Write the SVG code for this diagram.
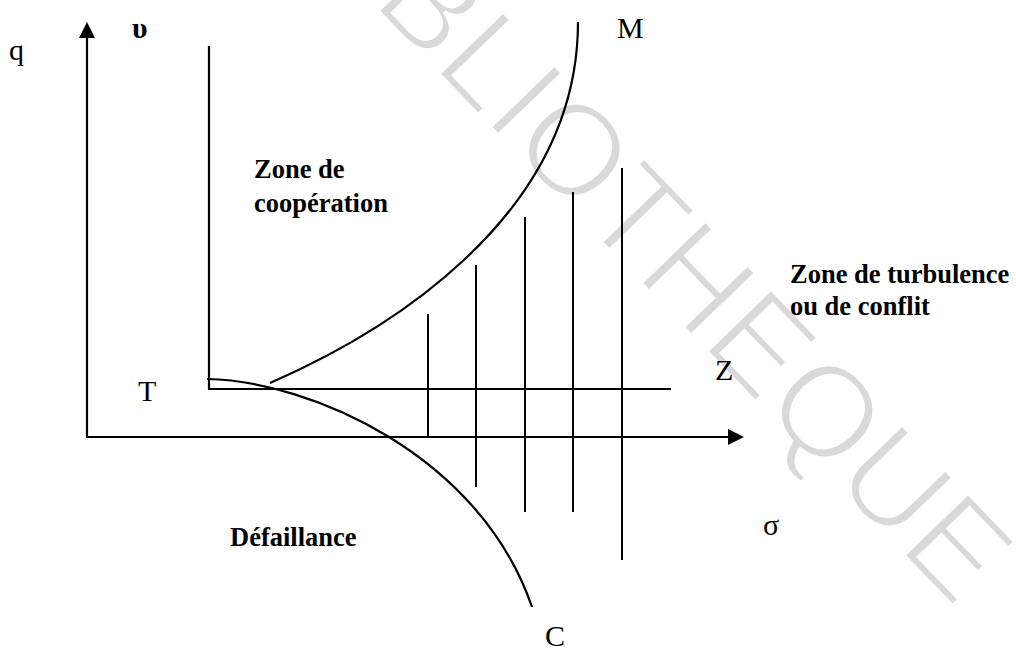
<svg xmlns="http://www.w3.org/2000/svg" width="1016" height="650" viewBox="0 0 1016 650">
  <style>
    .ln { stroke: #000; stroke-width: 2.2; fill: none; }
    .hl { stroke: #000; stroke-width: 2; fill: none; }
    .lbl { font-family: "Liberation Serif", "Times New Roman", serif; font-size: 30px; fill: #000; }
    .zone { font-family: "Liberation Serif", "Times New Roman", serif; font-size: 26.5px; font-weight: bold; fill: #000; }
    .wm { font-family: "Liberation Sans", Arial, sans-serif; font-size: 131px; fill: #d9d9d9; stroke: #fff; stroke-width: 4; }
  </style>
  <rect width="1016" height="650" fill="#fff"/>
  <g id="watermark">
    <text class="wm" transform="translate(284,-86) rotate(46)">BIBLIOTHEQUE</text>
  </g>
  <g id="connectors">
    <line class="ln" x1="87" y1="437" x2="87" y2="36"/>
    <polygon points="87,22 79,38 95,38" fill="#000"/>
    <line class="ln" x1="86" y1="437" x2="729" y2="437"/>
    <polygon points="744,437 728,429 728,445" fill="#000"/>
    <polyline class="ln" points="209,46 209,389 671,389"/>
    <path class="ln" d="M270,383 C380,335 578,220 578,22"/>
    <path class="ln" d="M207,379 C310,381 480,455 532,607"/>
    <line class="hl" x1="428" y1="314" x2="428" y2="437"/>
    <line class="hl" x1="476" y1="265" x2="476" y2="487"/>
    <line class="hl" x1="525" y1="217" x2="525" y2="512"/>
    <line class="hl" x1="573" y1="192" x2="573" y2="512"/>
    <line class="hl" x1="622" y1="168" x2="622" y2="560"/>
  </g>
  <g id="label-q"><text class="lbl" x="9" y="60">q</text></g>
  <g id="label-upsilon"><text class="lbl" x="132" y="38" font-weight="bold">υ</text></g>
  <g id="label-M"><text class="lbl" x="617" y="38">M</text></g>
  <g id="label-T"><text class="lbl" x="138" y="401">T</text></g>
  <g id="label-Z"><text class="lbl" x="715" y="380">Z</text></g>
  <g id="label-sigma"><text class="lbl" x="763" y="535">σ</text></g>
  <g id="label-C"><text class="lbl" x="545" y="646">C</text></g>
  <g id="zone-cooperation">
    <text class="zone" x="254" y="178">Zone de</text>
    <text class="zone" x="254" y="212">coopération</text>
  </g>
  <g id="zone-turbulence">
    <text class="zone" x="790" y="283">Zone de turbulence</text>
    <text class="zone" x="790" y="315">ou de conflit</text>
  </g>
  <g id="zone-defaillance">
    <text class="zone" x="230" y="546">Défaillance</text>
  </g>
</svg>
